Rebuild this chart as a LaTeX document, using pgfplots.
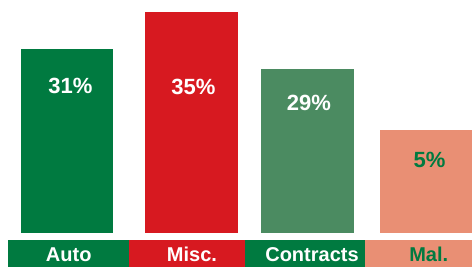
\documentclass[border=0pt]{standalone}
\usepackage{pgfplots}
\pgfplotsset{compat=1.18}
\usepackage{fontspec}
\setmainfont{Liberation Sans}
\definecolor{dkgreen}{HTML}{007A40}
\definecolor{myred}{HTML}{D71920}
\definecolor{mdgreen}{HTML}{4B8B61}
\definecolor{salmon}{HTML}{E98F74}
\begin{document}
\begin{tikzpicture}
\path[use as bounding box, clip] (0,0) rectangle (472pt,267pt);
\begin{axis}[at={(0,0)}, anchor=south west, width=472pt, height=267pt, scale only axis,
  xmin=0, xmax=472, ymin=-34, ymax=233, hide axis, clip=false]
% bars (heights as drawn)
\addplot[ybar, bar width=92, bar shift=0, fill=dkgreen, draw=none] coordinates {(67,184)};
\addplot[ybar, bar width=93, bar shift=0, fill=myred, draw=none] coordinates {(191.5,221)};
\addplot[ybar, bar width=93, bar shift=0, fill=mdgreen, draw=none] coordinates {(307.5,164)};
\addplot[ybar, bar width=93, bar shift=0, fill=salmon, draw=none] coordinates {(426.5,103)};
% category boxes
\addplot[fill=dkgreen, draw=none] coordinates {(8,-7) (129,-7) (129,-40) (8,-40)} -- cycle;
\addplot[fill=myred, draw=none] coordinates {(129,-7) (245,-7) (245,-40) (129,-40)} -- cycle;
\addplot[fill=dkgreen, draw=none] coordinates {(245,-7) (365,-7) (365,-40) (245,-40)} -- cycle;
\addplot[fill=salmon, draw=none] coordinates {(365,-7) (480,-7) (480,-40) (365,-40)} -- cycle;
% value labels
\addplot[only marks, mark=none, nodes near coords, point meta=explicit symbolic,
  nodes near coords style={anchor=center, inner sep=0pt, text=white, font=\bfseries\fontsize{22}{22}\selectfont}]
  table[meta=label] {
x y label
70.5 147 31\%
193.5 146.5 35\%
309 130 29\%
};
\addplot[only marks, mark=none, nodes near coords, point meta=explicit symbolic,
  nodes near coords style={anchor=center, inner sep=0pt, text=dkgreen, font=\bfseries\fontsize{22}{22}\selectfont}]
  table[meta=label] {
x y label
429.5 73 5\%
};
% category labels
\addplot[only marks, mark=none, nodes near coords, point meta=explicit symbolic,
  nodes near coords style={anchor=base, inner sep=0pt, text=white, font=\bfseries\fontsize{20}{20}\selectfont}]
  table[meta=label] {
x y label
68.7 -29 Auto
192 -29 Misc.
312 -29 Contracts
};
\addplot[only marks, mark=none, nodes near coords, point meta=explicit symbolic,
  nodes near coords style={anchor=base, inner sep=0pt, text=dkgreen, font=\bfseries\fontsize{20}{20}\selectfont}]
  table[meta=label] {
x y label
428.7 -29 Mal.
};
\end{axis}
\end{tikzpicture}
\end{document}
